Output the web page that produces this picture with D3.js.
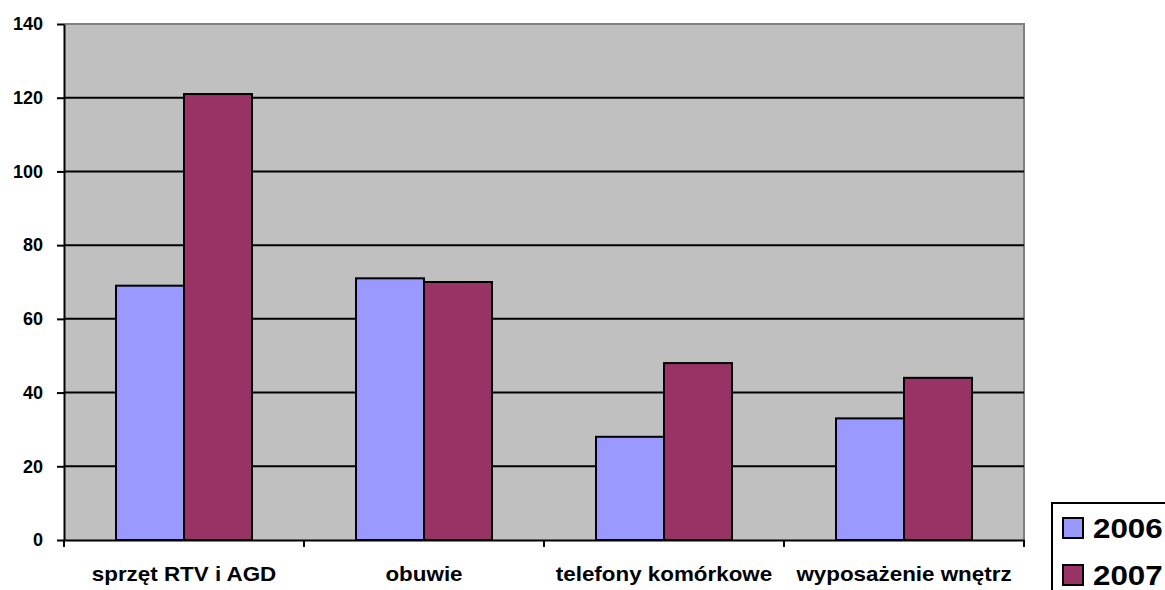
<!DOCTYPE html>
<html>
<head>
<meta charset="utf-8">
<script src="https://cdn.jsdelivr.net/npm/d3@7"></script>
<style>
  html, body { margin: 0; padding: 0; background: #fff; }
  svg { display: block; font-family: "Liberation Sans", Arial, sans-serif; }
</style>
</head>
<body>
<svg id="chart" width="1165" height="590"></svg>
<script>
// Sales by product group, 2006 vs 2007
const categories = ["sprzęt RTV i AGD", "obuwie", "telefony komórkowe", "wyposażenie wnętrz"];
const seriesNames = ["2006", "2007"];
const values2006 = [69, 71, 28, 33];
const values2007 = [121, 70, 48, 44];
const yTicks = [0, 20, 40, 60, 80, 100, 120, 140];
const colors = ["#9999FF", "#993366"];

const FONT = "'Liberation Sans', Arial, sans-serif";
const svg = d3.select("#chart");
const plot = { left: 64, right: 1024, top: 24, bottom: 540 };

const x = d3.scaleBand().domain(categories).range([plot.left, plot.right]).paddingInner(0).paddingOuter(0);
const inner = d3.scaleBand().domain(seriesNames).range([0, x.bandwidth()]).paddingInner(0).paddingOuter(0.765);
const y = d3.scaleLinear().domain([0, 140]).range([plot.bottom, plot.top]);

// plot background
svg.append("rect")
  .attr("x", plot.left).attr("y", plot.top)
  .attr("width", plot.right - plot.left).attr("height", plot.bottom - plot.top)
  .attr("fill", "#C0C0C0");
// plot border (top/right gray)
svg.append("path")
  .attr("d", `M${plot.left},${plot.top}H${plot.right}V${plot.bottom}`)
  .attr("fill", "none").attr("stroke", "#808080").attr("stroke-width", 2);

// gridlines
svg.append("g").selectAll("line")
  .data(yTicks.filter(t => t > 0 && t < 140))
  .join("line")
  .attr("x1", plot.left).attr("x2", plot.right)
  .attr("y1", d => y(d)).attr("y2", d => y(d))
  .attr("stroke", "#000").attr("stroke-width", 2);

// bars
const data = categories.map((c, i) => ({ cat: c, vals: [values2006[i], values2007[i]] }));
const groups = svg.append("g").selectAll("g").data(data).join("g")
  .attr("transform", d => `translate(${x(d.cat)},0)`);
groups.selectAll("rect")
  .data(d => d.vals.map((v, j) => ({ key: seriesNames[j], v, j })))
  .join("rect")
  .attr("x", d => inner(d.key))
  .attr("width", inner.bandwidth())
  .attr("y", d => y(d.v))
  .attr("height", d => y(0) - y(d.v))
  .attr("fill", d => colors[d.j])
  .attr("stroke", "#000").attr("stroke-width", 2);

// y axis
const yAxis = svg.append("g")
  .attr("transform", `translate(${plot.left},0)`)
  .call(d3.axisLeft(y).tickValues(yTicks).tickSize(7).tickSizeOuter(0).tickPadding(14));
yAxis.select(".domain").attr("stroke", "#000").attr("stroke-width", 2);
yAxis.selectAll(".tick line").attr("stroke", "#000").attr("stroke-width", 2);
yAxis.selectAll(".tick text")
  .attr("font-size", 18).attr("font-weight", "bold").attr("fill", "#000")
  .attr("font-family", FONT);

// x axis
const xAxis = svg.append("g")
  .attr("transform", `translate(0,${plot.bottom})`)
  .call(d3.axisBottom(x).tickSize(0).tickSizeOuter(0));
xAxis.select(".domain").attr("stroke", "#000").attr("stroke-width", 2);
xAxis.selectAll(".tick text")
  .attr("y", 41).attr("dy", 0)
  .attr("transform", "scale(1.12,1)")
  .attr("font-size", 20).attr("font-weight", "bold").attr("fill", "#000")
  .attr("font-family", FONT);
// tick marks between categories
svg.append("g").selectAll("line")
  .data(d3.range(categories.length + 1))
  .join("line")
  .attr("x1", i => plot.left + i * x.bandwidth())
  .attr("x2", i => plot.left + i * x.bandwidth())
  .attr("y1", plot.bottom).attr("y2", plot.bottom + 7)
  .attr("stroke", "#000").attr("stroke-width", 2);

// legend
const legend = svg.append("g").attr("transform", "translate(1052,503)");
legend.append("rect")
  .attr("x", 0).attr("y", 0).attr("width", 130).attr("height", 100)
  .attr("fill", "#fff").attr("stroke", "#000").attr("stroke-width", 2);
const items = legend.selectAll("g.item").data(seriesNames).join("g")
  .attr("class", "item")
  .attr("transform", (d, i) => `translate(11,${15 + i * 47})`);
items.append("rect")
  .attr("width", 20).attr("height", 20)
  .attr("fill", (d, i) => colors[i]).attr("stroke", "#000").attr("stroke-width", 2);
items.append("g")
  .attr("transform", "translate(30,20) scale(1.12,1)")
  .append("text")
  .attr("font-size", 28).attr("font-weight", "bold").attr("fill", "#000")
  .attr("font-family", FONT)
  .text(d => d);
</script>
</body>
</html>
